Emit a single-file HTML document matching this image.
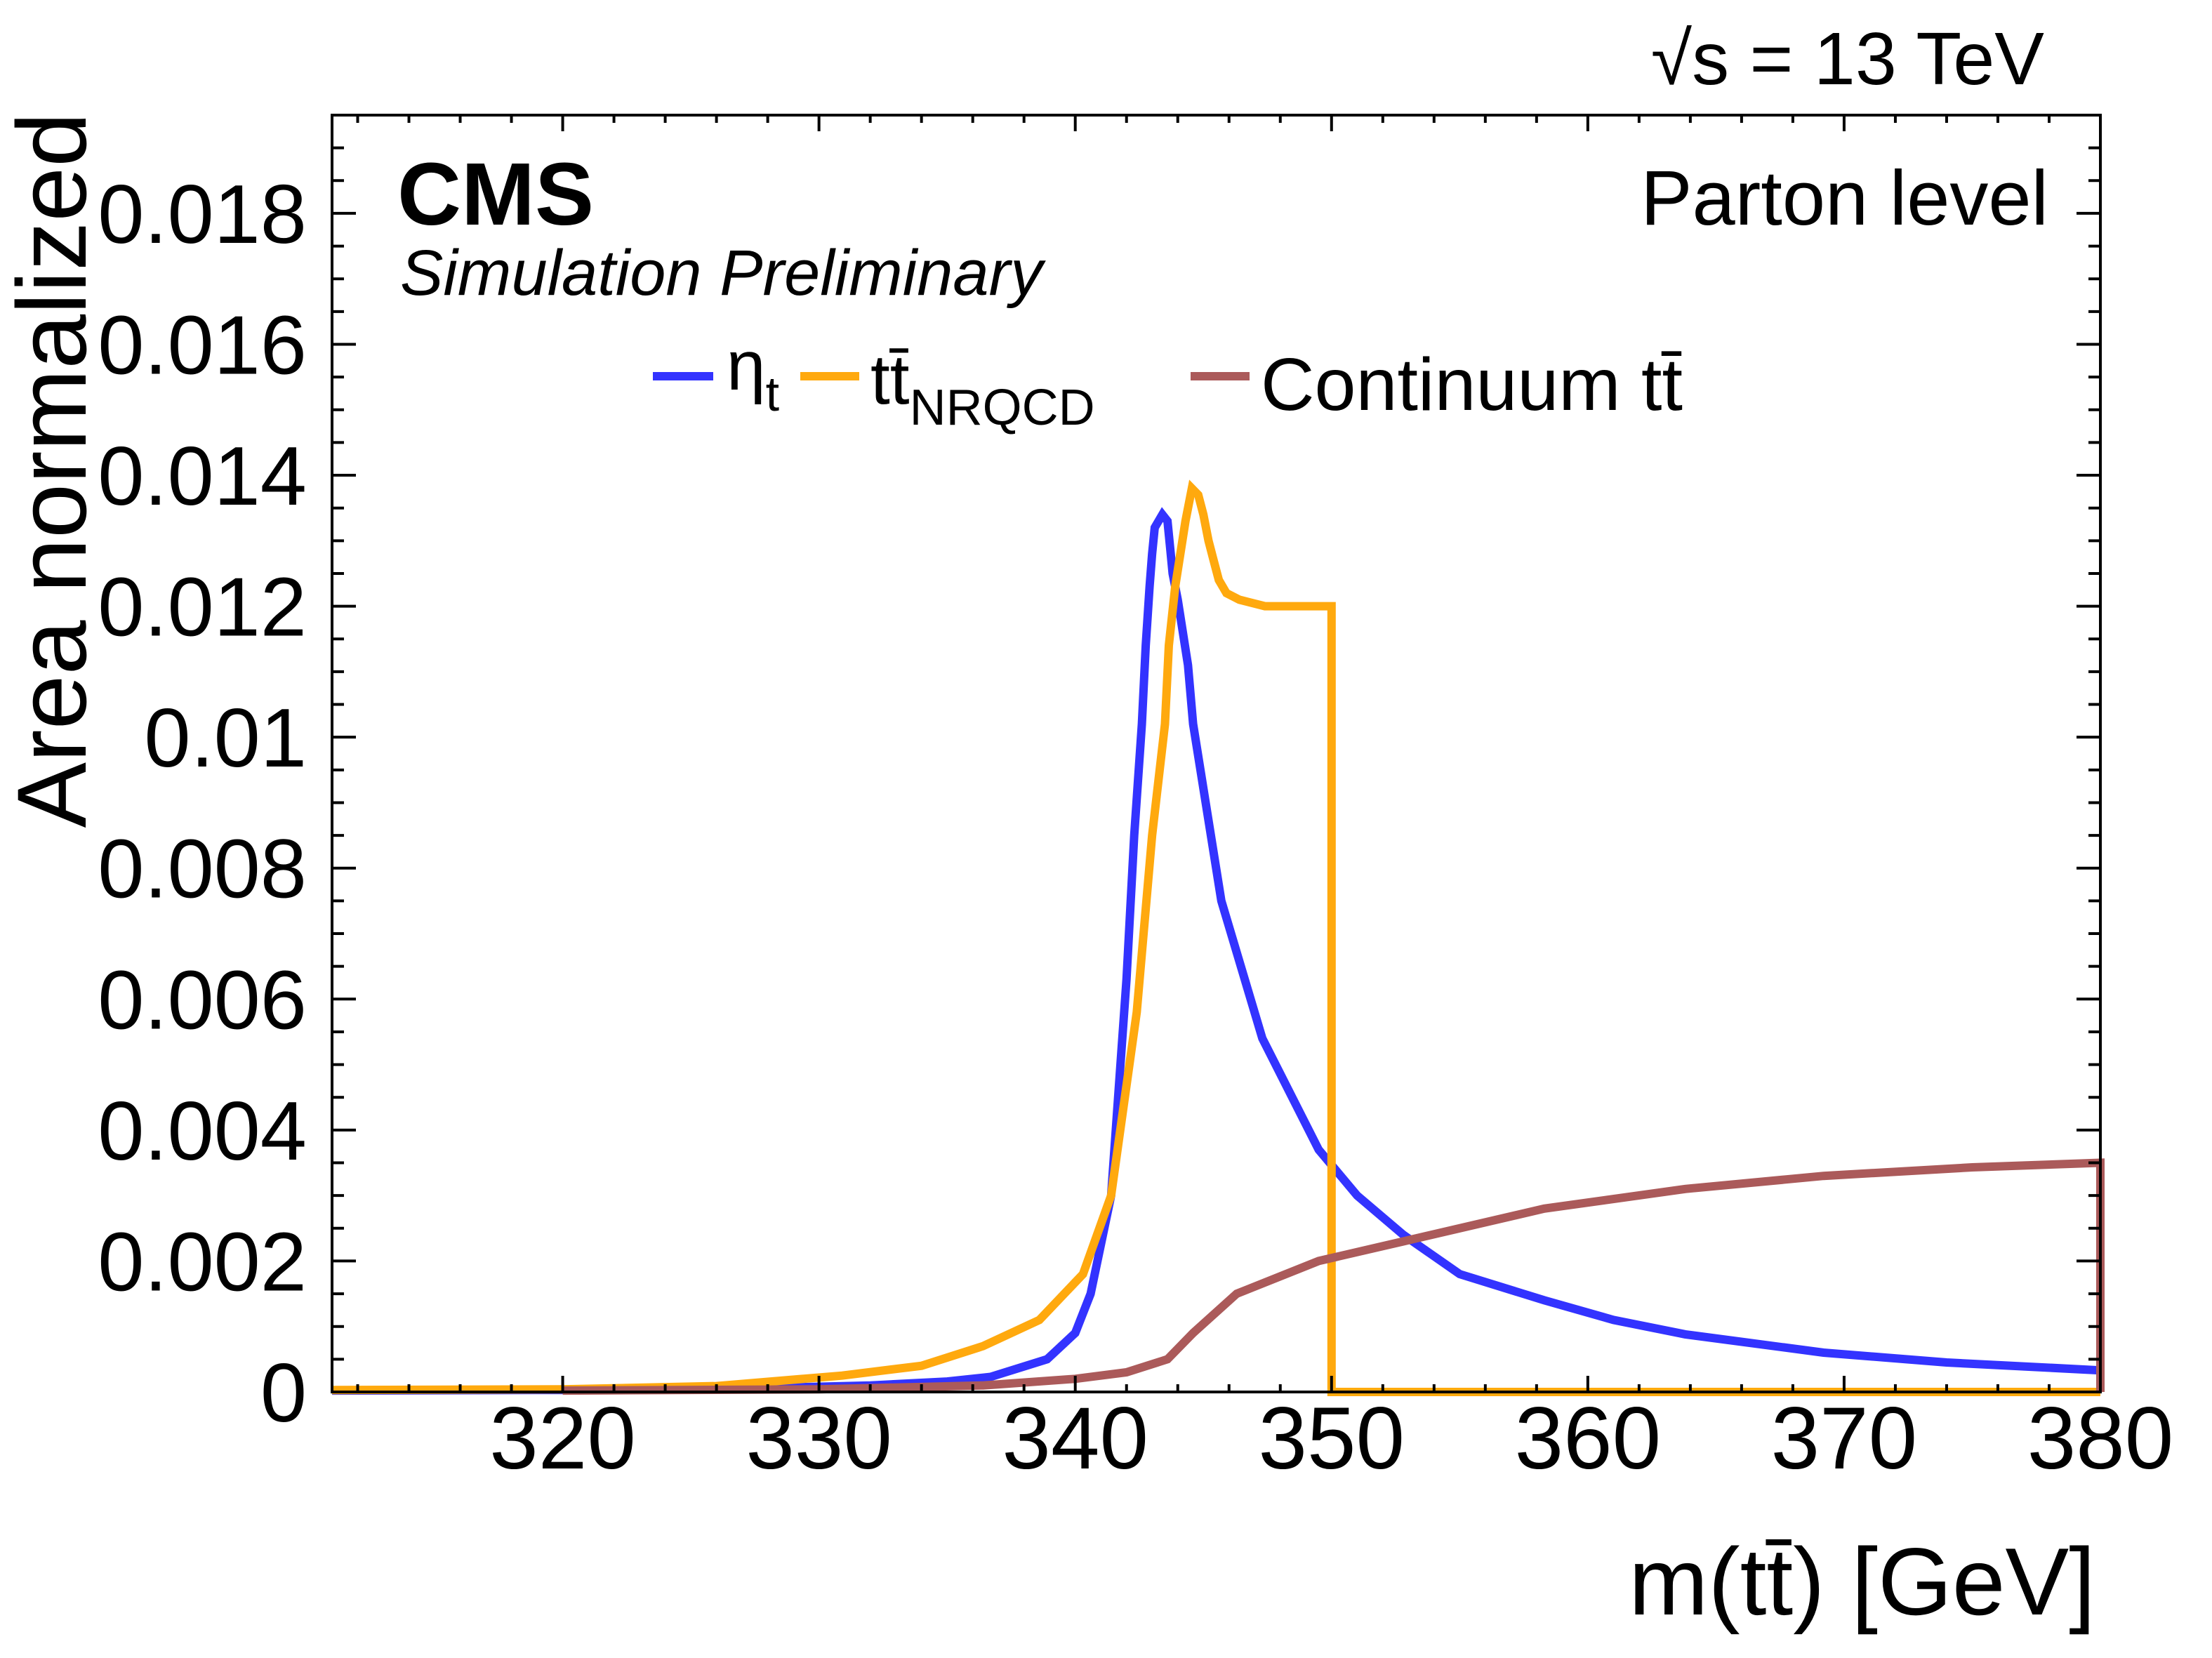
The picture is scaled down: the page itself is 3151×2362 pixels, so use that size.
<!DOCTYPE html>
<html><head><meta charset="utf-8"><style>
html,body{margin:0;padding:0;background:#fff}
svg{display:block}
text{font-family:"Liberation Sans",Arial,sans-serif;fill:#000}
</style></head><body>
<svg id="chart" width="3151" height="2362" viewBox="0 0 3151 2362" xmlns="http://www.w3.org/2000/svg">
<g id="series"></g>
<g id="axes"></g>
<text x="2985" y="2300" font-size="136" text-anchor="end">m(tt̄) [GeV]</text>
<text transform="translate(122,160) rotate(-90)" font-size="140" text-anchor="end">Area normalized</text>
<text x="566" y="320" font-size="126" font-weight="bold">CMS</text>
<text x="570" y="420" font-size="92" font-style="italic">Simulation Preliminary</text>
<text x="2918" y="320" font-size="110" text-anchor="end">Parton level</text>
<text x="2912" y="120" font-size="106" text-anchor="end">√s = 13 TeV</text>
<g>
<line x1="930" y1="536" x2="1016" y2="536" stroke="#3333ff" stroke-width="12"/>
<text x="1035" y="555" font-size="100">η<tspan font-size="70" dy="30">t</tspan></text>
<line x1="1140" y1="536" x2="1224" y2="536" stroke="#ffa90e" stroke-width="12"/>
<text x="1240" y="575" font-size="100">tt̄<tspan font-size="72" dy="30">NRQCD</tspan></text>
<line x1="1696" y1="536" x2="1780" y2="536" stroke="#ab5a5a" stroke-width="12"/>
<text x="1796" y="584" font-size="106">Continuum tt̄</text>
</g>
</svg>
<script>
const xTicks = [320, 330, 340, 350, 360, 370, 380];
const yTicks = [0, 0.002, 0.004, 0.006, 0.008, 0.01, 0.012, 0.014, 0.016, 0.018];
const yTickLabels = ["0", "0.002", "0.004", "0.006", "0.008", "0.01", "0.012", "0.014", "0.016", "0.018"];
const etaMass = [311, 320, 328, 332, 335, 336.7, 338.9, 340.0, 340.6, 341.4, 342.0, 342.3, 342.6, 342.75, 342.9, 343.0, 343.1, 343.4, 343.6, 343.7, 343.8, 344.0, 344.2, 344.4, 344.6, 345.7, 347.3, 349.5, 351, 352.8, 355, 358.3, 361, 363.8, 369.2, 374, 380];
const etaVals = [0.00002, 0.00003, 0.00006, 0.0001, 0.00016, 0.00023, 0.0005, 0.0009, 0.0015, 0.003, 0.0063, 0.0085, 0.0102, 0.0114, 0.0123, 0.0128, 0.0132, 0.0134, 0.0133, 0.0129, 0.0125, 0.0121, 0.0116, 0.0111, 0.0102, 0.0075, 0.0054, 0.0037, 0.003, 0.0024, 0.0018, 0.0014, 0.0011, 0.00088, 0.0006, 0.00045, 0.00033];
const nrqcdMass = [311, 320, 326, 330.9, 334, 336.4, 338.6, 340.3, 341.4, 342.4, 343.0, 343.5, 343.65, 343.9, 344.1, 344.3, 344.55, 344.8, 345.0, 345.2, 345.4, 345.6, 345.9, 346.4, 347.4, 348.3, 350.0, 350.0, 380];
const nrqcdVals = [0.00003, 0.00004, 0.00009, 0.00025, 0.0004, 0.0007, 0.0011, 0.0018, 0.003, 0.0058, 0.0085, 0.0102, 0.0114, 0.0123, 0.0128, 0.0133, 0.0138, 0.0137, 0.0134, 0.013, 0.0127, 0.0124, 0.0122, 0.0121, 0.012, 0.012, 0.012, 0, 0];
const contMass = [320, 330, 336.4, 340, 342, 343.6, 344.6, 346.3, 349.5, 352.8, 358.3, 363.8, 369.2, 375, 380, 380];
const contVals = [0.00002, 0.00004, 0.0001, 0.0002, 0.0003, 0.0005, 0.0009, 0.0015, 0.002, 0.0023, 0.0028, 0.0031, 0.0033, 0.00343, 0.0035, 0];

const L = 473, R = 2992, T = 164, B = 1983;
const xMin = 311, xMax = 380, yMin = 0, yMax = 0.0195;
const NS = "http://www.w3.org/2000/svg";
function xs(m) { return L + (m - xMin) / (xMax - xMin) * (R - L); }
function ys(v) { return B - (v - yMin) / (yMax - yMin) * (B - T); }
function mk(tag, attrs, parent) {
  const e = document.createElementNS(NS, tag);
  for (const k in attrs) e.setAttribute(k, attrs[k]);
  parent.appendChild(e);
  return e;
}
const series = document.getElementById('series');
const axes = document.getElementById('axes');
function drawSeries(ms, vs, color, name) {
  const pts = ms.map((m, i) => xs(m).toFixed(1) + ',' + ys(vs[i]).toFixed(1)).join(' ');
  const p = mk('polyline', {points: pts, fill: 'none', stroke: color, 'stroke-width': 12, 'stroke-linejoin': 'miter'}, series);
  
  
}
drawSeries(etaMass, etaVals, '#3333ff', 'eta-t-line');
drawSeries(nrqcdMass, nrqcdVals, '#ffa90e', 'nrqcd-line');
drawSeries(contMass, contVals, '#ab5a5a', 'continuum-line');

const frame = mk('rect', {x: L, y: T, width: R - L, height: B - T, fill: 'none', stroke: '#000', 'stroke-width': 4}, axes);


for (let m = 312; m <= 380; m += 2) {
  const major = (m % 10 === 0);
  const len = major ? 23 : 11;
  const x = xs(m);
  const t1 = mk('line', {x1: x, y1: B, x2: x, y2: B - len, stroke: '#000', 'stroke-width': 4}, axes);
  
  
  const t2 = mk('line', {x1: x, y1: T, x2: x, y2: T + len, stroke: '#000', 'stroke-width': 4}, axes);
  
  
}
xTicks.forEach(m => {
  const t = mk('text', {x: xs(m), y: 2092, 'font-size': 125, 'text-anchor': 'middle'}, axes);
  t.textContent = String(m);
  
  
});
for (let i = 0; i * 0.0005 <= yMax + 1e-9; i++) {
  const v = i * 0.0005;
  const major = (i % 4 === 0);
  const len = major ? 34 : 17;
  const y = ys(v);
  const t1 = mk('line', {x1: L, y1: y, x2: L + len, y2: y, stroke: '#000', 'stroke-width': 4}, axes);
  
  
  const t2 = mk('line', {x1: R, y1: y, x2: R - len, y2: y, stroke: '#000', 'stroke-width': 4}, axes);
  
  
}
yTicks.forEach((v, i) => {
  const t = mk('text', {x: 437, y: ys(v) + 42, 'font-size': 119, 'text-anchor': 'end'}, axes);
  t.textContent = yTickLabels[i];
  
  
});
</script>
</body></html>
